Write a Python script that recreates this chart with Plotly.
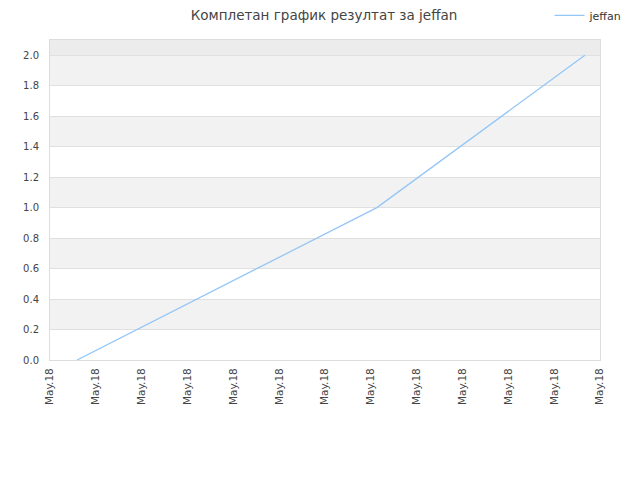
import plotly.graph_objects as go

# data
dates = ['2018-05-01 14:10', '2018-05-08 03:10', '2018-05-12 16:05']
scores = [0.0, 1.0, 2.0]
player = 'jeffan'
tick_dates = ['2018-05-%02d' % d for d in range(1, 14)]
tick_labels = ['May.18'] * len(tick_dates)

fig = go.Figure()
fig.add_trace(go.Scatter(x=dates, y=scores, mode='lines', name=player,
                         line=dict(color='#94c6f7', width=1.3)))

# alternating horizontal bands
bands = [(0.2, 0.4), (0.6, 0.8), (1.0, 1.2), (1.4, 1.6), (1.8, 2.0)]
for y0, y1 in bands:
    fig.add_shape(type='rect', xref='paper', x0=0, x1=1, yref='y', y0=y0, y1=y1,
                  fillcolor='#f2f2f2', line_width=0, layer='below')
fig.add_shape(type='rect', xref='paper', x0=0, x1=1, yref='y', y0=2.0, y1=2.1,
              fillcolor='#ececec', line_width=0, layer='below')

# page body adds an 8px margin, so the figure is 8px smaller than the window
fig.update_layout(
    width=632, height=472,
    margin=dict(l=42, r=40, t=32, b=120, autoexpand=False),
    paper_bgcolor='white', plot_bgcolor='white',
    font=dict(family='DejaVu Sans', size=10, color='#444'),
    title=dict(text='Комплетан график резултат за jeffan', x=0.5, xanchor='center',
               y=0.984, yanchor='middle', font=dict(size=13.5, color='#444')),
    showlegend=True,
    legend=dict(x=1.05, xanchor='right', y=1.122, yanchor='top',
                font=dict(size=11, color='#333'), bgcolor='rgba(0,0,0,0)'),
    xaxis=dict(type='date', range=['2018-05-01', '2018-05-13'],
               tickvals=tick_dates, ticktext=tick_labels, tickangle=-90,
               showgrid=False, zeroline=False, showline=True, linecolor='#dddddd',
               mirror=True, ticks='', ticklabelstandoff=3,
               tickfont=dict(size=10.5, color='#444')),
    yaxis=dict(range=[0, 2.1], dtick=0.2, tickformat='.1f', showgrid=True,
               gridcolor='#e0e0e0', zeroline=False, showline=True,
               linecolor='#dddddd', mirror=True, ticks='', ticklabelstandoff=8,
               tickfont=dict(size=10, color='#444')),
)

fig.write_html('out.html')
